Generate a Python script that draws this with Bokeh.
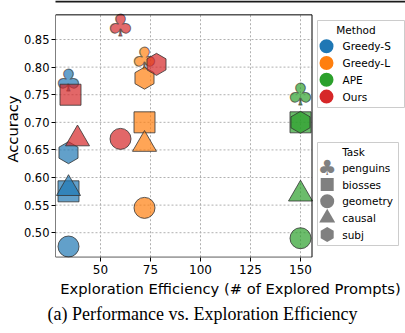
import math
from bokeh.plotting import figure
from bokeh.models import Range1d, FixedTicker, Title, BoxAnnotation
from bokeh.core.properties import value
from bokeh.embed import file_html
from bokeh.resources import INLINE

# ---------------- data ----------------
methods = ["Greedy-S", "Greedy-L", "APE", "Ours"]
tasks = ["penguins", "biosses", "geometry", "causal", "subj"]

greedy_s_prompts = [34, 34, 34, 34, 34]
greedy_s_acc = [0.775, 0.575, 0.475, 0.58, 0.645]
greedy_l_prompts = [72, 72, 72, 72, 72]
greedy_l_acc = [0.815, 0.70, 0.545, 0.66, 0.78]
ape_prompts = [150, 150, 150, 150, 150]
ape_acc = [0.75, 0.70, 0.49, 0.57, 0.70]
ours_prompts = [60, 35, 60, 38.5, 78]
ours_acc = [0.875, 0.75, 0.67, 0.67, 0.805]

x_ticks = [50, 75, 100, 125, 150]
x_tick_labels = ["50", "75", "100", "125", "150"]
y_ticks = [0.50, 0.55, 0.60, 0.65, 0.70, 0.75, 0.80, 0.85]
y_tick_labels = ["0.50", "0.55", "0.60", "0.65", "0.70", "0.75", "0.80", "0.85"]

x_label = "Exploration Efficiency (# of Explored Prompts)"
y_label = "Accuracy"
caption = "(a) Performance vs. Exploration Efficiency"
method_legend_title = "Method"
task_legend_title = "Task"

series = {
    "Greedy-S": (greedy_s_prompts, greedy_s_acc),
    "Greedy-L": (greedy_l_prompts, greedy_l_acc),
    "APE": (ape_prompts, ape_acc),
    "Ours": (ours_prompts, ours_acc),
}

# ---------------- styles ----------------
colors = {"Greedy-S": "#1f77b4", "Greedy-L": "#ff7f0e", "APE": "#2ca02c", "Ours": "#d62728"}
task_marker = {"penguins": "club", "biosses": "square", "geometry": "circle",
               "causal": "triangle", "subj": "hex"}
marker_size = {"square": 21, "circle": 21, "triangle": 24, "hex": 22}
marker_angle = {"square": 0.0, "circle": 0.0, "triangle": 0.0, "hex": math.pi / 6}
legend_size = {"square": 13, "circle": 14, "triangle": 16, "hex": 15}
FONT = "DejaVu Sans"
LEFT = 55

# axes limits (data) and canvas geometry
X0, X1 = 27.5, 155.75
Y0, Y1 = 0.4556, 0.8947

p = figure(width=405, height=333, output_backend="svg", toolbar_location=None,
           x_range=Range1d(27.5, 27.5 + (405 - LEFT) / 2), y_range=Range1d(0.4551, 0.9207),
           min_border_left=LEFT, min_border_right=0, min_border_top=0,
           min_border_bottom=76)
p.extra_x_ranges = {"px": Range1d(LEFT, 405)}
p.extra_y_ranges = {"px": Range1d(257, 0)}
p.outline_line_color = None
p.xgrid.visible = False
p.ygrid.visible = False
p.background_fill_color = "white"
p.border_fill_color = "white"

# grid (dotted) restricted to the axes box
grid_kw = dict(line_color="#b0b0b0", line_dash="2 2", line_width=1)
p.segment(x0=x_ticks, y0=[Y0] * len(x_ticks), x1=x_ticks, y1=[Y1] * len(x_ticks), **grid_kw)
p.segment(x0=[X0] * len(y_ticks), y0=y_ticks, x1=[X1] * len(y_ticks), y1=y_ticks, **grid_kw)

# points
for m in methods:
    xs, ys = series[m]
    for t, x, y in zip(tasks, xs, ys):
        mk = task_marker[t]
        if mk == "club":
            p.text(x=[x], y=[y], text=["\u2663"], text_font=value(FONT),
                   text_font_size="30px", text_align="center", text_baseline="middle",
                   text_color=colors[m], text_alpha=0.7,
                   text_outline_color="#333333")
        else:
            p.scatter(x=[x], y=[y], marker=mk, size=marker_size[mk],
                      angle=marker_angle[mk], fill_color=colors[m], fill_alpha=0.7,
                      line_color="#333333", line_alpha=0.8, line_width=1)

# axes frame
p.quad(left=[X0], right=[X1], bottom=[Y0], top=[Y1], fill_color=None,
       line_color="black", line_width=1)

# axes
for ax, ticks, labels in ((p.xaxis, x_ticks, x_tick_labels), (p.yaxis, y_ticks, y_tick_labels)):
    ax.ticker = FixedTicker(ticks=ticks)
    ax.major_label_overrides = {k: v for k, v in zip(ticks, labels)}
    ax.axis_line_color = None
    ax.major_tick_in = 0
    ax.major_tick_out = 4
    ax.minor_tick_line_color = None
    ax.major_tick_line_color = "black"
    ax.major_label_text_font = FONT
    ax.major_label_text_font_size = "12px"
    ax.major_label_text_color = "black"
    ax.axis_label_text_font = FONT
    ax.axis_label_text_font_size = "14.7px"
    ax.axis_label_text_font_style = "normal"
    ax.axis_label_text_color = "black"
    ax.axis_label_text_line_height = 1.0
    ax.major_label_standoff = 3
    ax.axis_label_standoff = 0
p.xaxis.axis_label_standoff = 3
p.yaxis.major_label_text_font_size = "11.5px"
p.yaxis.major_label_standoff = 2
p.yaxis.axis_label_text_line_height = 0.75
p.xaxis.axis_label = x_label
p.yaxis.axis_label = y_label

# ---------------- legends (pixel coordinates) ----------------
px = dict(x_range_name="px", y_range_name="px")
legend_box = dict(fill_color="white", line_color="#cccccc", line_width=1)
text_kw = dict(text_font=value(FONT), text_font_size="10.5px", text_color="black",
               text_baseline="middle")

# Method legend
p.quad(left=[317], right=[404], top=[20], bottom=[107], **legend_box, **px)
p.text(x=[355.5], y=[29.5], text=[method_legend_title], text_align="center", **text_kw, **px)
m_y = [45.7 + 16.8 * i for i in range(len(methods))]
p.scatter(x=[326] * len(methods), y=m_y, marker="circle", size=14,
          fill_color=[colors[m] for m in methods], line_color=None, **px)
p.text(x=[342] * len(methods), y=m_y, text=methods, text_align="left", **text_kw, **px)

# Task legend
p.quad(left=[317], right=[398], top=[142], bottom=[245], **legend_box, **px)
p.text(x=[353], y=[151], text=[task_legend_title], text_align="center", **text_kw, **px)
t_y = [167.3 + 16.7 * i for i in range(len(tasks))]
for t, yy in zip(tasks, t_y):
    mk = task_marker[t]
    if mk == "club":
        p.text(x=[326.7], y=[yy], text=["\u2663"], text_font=value(FONT),
               text_font_size="21px", text_align="center", text_baseline="middle",
               text_color="#808080", **px)
    else:
        p.scatter(x=[326.7], y=[yy], marker=mk, size=legend_size[mk],
                  angle=marker_angle[mk], fill_color="#808080", line_color=None, **px)
p.text(x=[341.7] * len(tasks), y=t_y, text=tasks, text_align="left", **text_kw, **px)

# top rule
p.add_layout(BoxAnnotation(left=21, right=405, top=0, bottom=2,
                           left_units="canvas", right_units="canvas",
                           top_units="canvas", bottom_units="canvas",
                           fill_color="#1a1a1a", fill_alpha=1, line_color=None))

# caption
p.add_layout(Title(text=caption, align="left", offset=-8, text_font="Liberation Serif",
                   text_font_size="18px", text_font_style="normal", text_color="black",
                   standoff=4), "below")

open("out.html", "w").write(file_html(p, INLINE))
